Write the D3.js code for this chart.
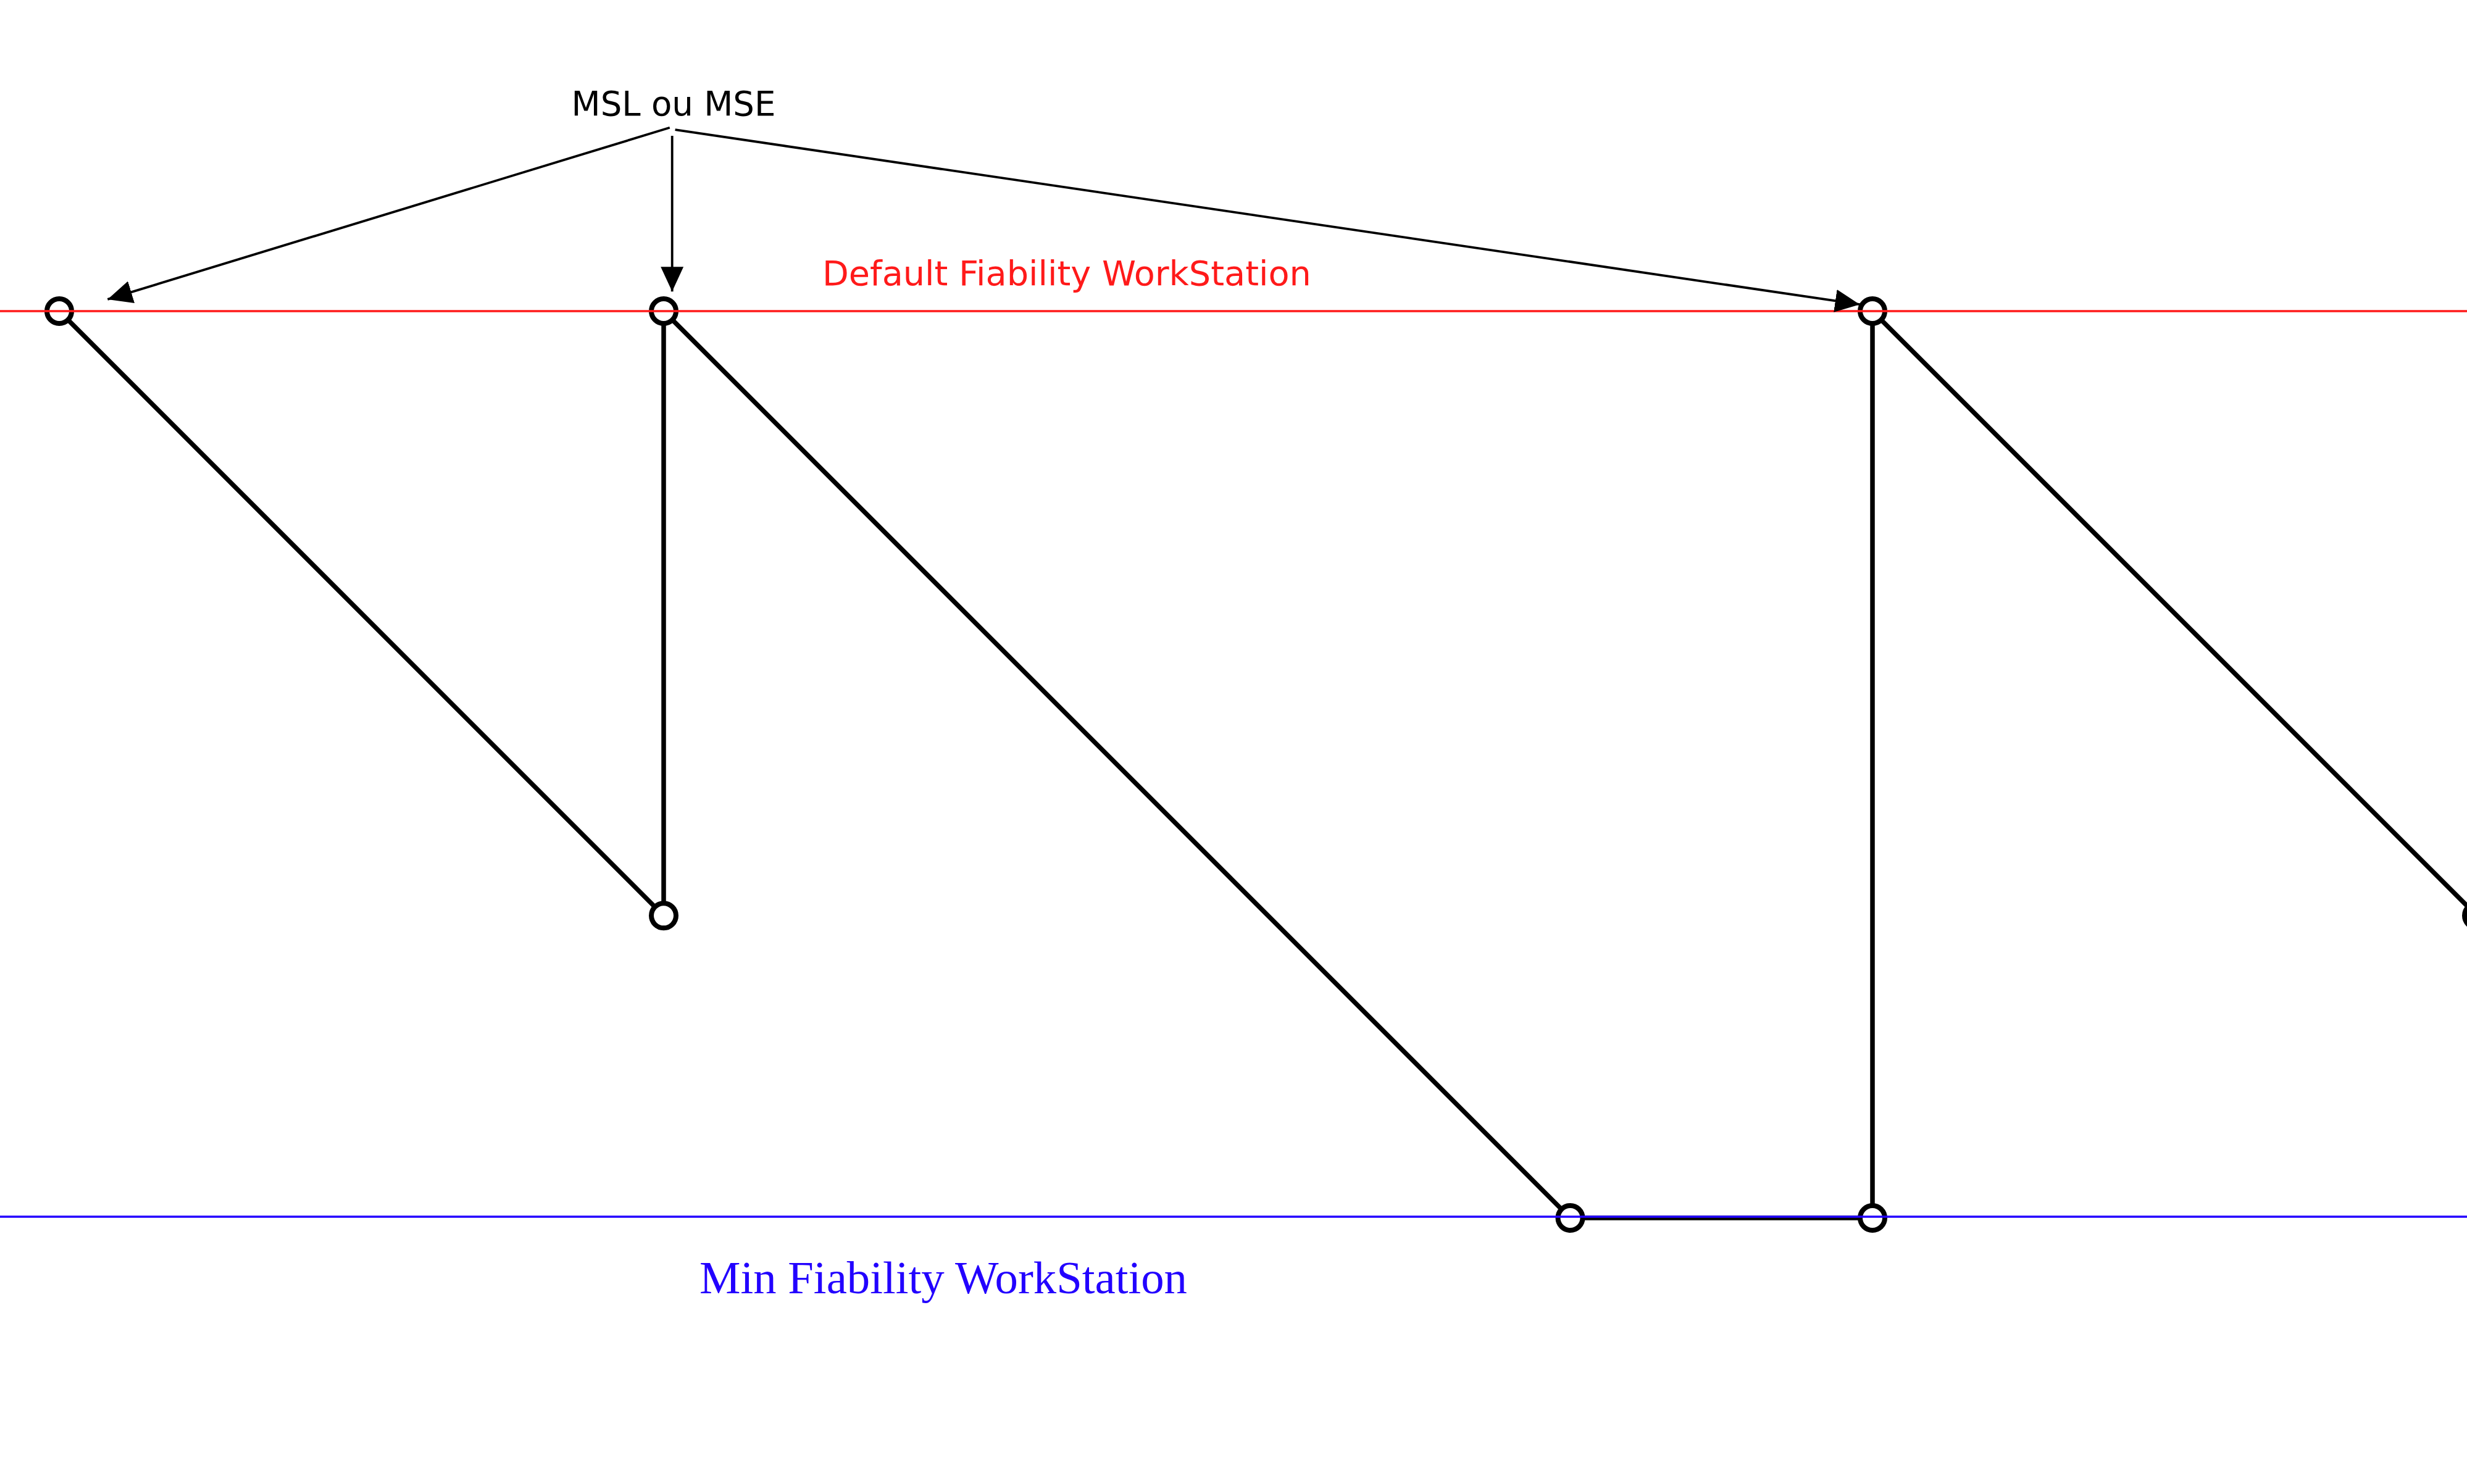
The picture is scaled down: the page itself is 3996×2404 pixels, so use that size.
<!DOCTYPE html>
<html>
<head>
<meta charset="utf-8">
<script src="https://cdn.jsdelivr.net/npm/d3@7"></script>
<style>
html, body { margin: 0; padding: 0; background: #fff; }
svg { display: block; }
</style>
</head>
<body>
<script>
// ---- data ----
const timeSteps   = [0, 1, 1, 2.5, 3, 3, 4];      // time position of each state
const reliability = [3, 1, 3, 0, 0, 3, 1];        // reliability level of each state
const defaultLevel = 3;                            // Default Fiability WorkStation
const minLevel     = 0;                            // Min Fiability WorkStation
const annotationLabel = "MSL ou MSE";
const annotationSources = [[1.010, 3.607], [1.014, 3.580], [1.019, 3.600]];
const annotationTargets = [[0.080, 3.039], [1.014, 3.065], [2.979, 3.022]];
const defaultLabel = "Default Fiability WorkStation";
const minLabel = "Min Fiability WorkStation";

// ---- layout ----
const W = 3996, H = 2404;
const x = d3.scaleLinear().domain([0, 4]).range([96, 4012]);
const y = d3.scaleLinear().domain([0, 3]).range([1973, 504]);

const svg = d3.select("body").append("svg")
  .attr("width", W).attr("height", H)
  .attr("viewBox", `0 0 ${W} ${H}`);

svg.append("rect").attr("width", W).attr("height", H).attr("fill", "#fff");

const defs = svg.append("defs");
defs.append("marker")
  .attr("id", "arrow")
  .attr("markerUnits", "userSpaceOnUse")
  .attr("viewBox", "0 0 40 37")
  .attr("markerWidth", 40).attr("markerHeight", 37)
  .attr("refX", 40).attr("refY", 18.5)
  .attr("orient", "auto")
  .append("path").attr("d", "M0,0 L40,18.5 L0,37 Z").attr("fill", "#000");

const pts = timeSteps.map((t, i) => [t, reliability[i]]);

// sawtooth path
svg.append("path")
  .datum(pts)
  .attr("d", d3.line().x(d => x(d[0])).y(d => y(d[1])))
  .attr("fill", "none")
  .attr("stroke", "#000")
  .attr("stroke-width", 7.5)
  .attr("stroke-linejoin", "miter");

// state circles
svg.append("g").selectAll("circle")
  .data(pts).join("circle")
  .attr("cx", d => x(d[0])).attr("cy", d => y(d[1]))
  .attr("r", 20)
  .attr("fill", "#fff")
  .attr("stroke", "#000")
  .attr("stroke-width", 8);

// reference levels
svg.append("line")
  .attr("x1", 0).attr("x2", W)
  .attr("y1", y(defaultLevel)).attr("y2", y(defaultLevel))
  .attr("stroke", "#ff1a1a").attr("stroke-width", 3.5);
svg.append("line")
  .attr("x1", 0).attr("x2", W)
  .attr("y1", y(minLevel) - 2).attr("y2", y(minLevel) - 2)
  .attr("stroke", "#2200ff").attr("stroke-width", 3.5);

// annotation arrows
svg.append("g").selectAll("line")
  .data(annotationSources.map((s, i) => [s, annotationTargets[i]]))
  .join("line")
  .attr("x1", d => x(d[0][0])).attr("y1", d => y(d[0][1]))
  .attr("x2", d => x(d[1][0])).attr("y2", d => y(d[1][1]))
  .attr("stroke", "#000").attr("stroke-width", 3.8)
  .attr("marker-end", "url(#arrow)");

function fitText(sel, target) {
  const node = sel.node();
  const w = node.getComputedTextLength();
  const fs = parseFloat(sel.attr("font-size"));
  if (w > 0) sel.attr("font-size", fs * target / w);
}

const sans = "'Lucida Grande', 'DejaVu Sans', sans-serif";

const t1 = svg.append("text")
  .attr("x", 1091).attr("y", 187)
  .attr("text-anchor", "middle")
  .attr("font-family", sans).attr("font-size", 55)
  .attr("fill", "#000")
  .text(annotationLabel);
fitText(t1, 331);

const t2 = svg.append("text")
  .attr("x", 1332).attr("y", 462)
  .attr("font-family", sans).attr("font-size", 55)
  .attr("fill", "#ff1a1a")
  .text(defaultLabel);
fitText(t2, 792);

const t3 = svg.append("text")
  .attr("x", 1133).attr("y", 2095)
  .attr("font-family", "'Liberation Serif', 'Times New Roman', serif").attr("font-size", 74)
  .attr("fill", "#2200ff")
  .text(minLabel);
fitText(t3, 790);
</script>
</body>
</html>
